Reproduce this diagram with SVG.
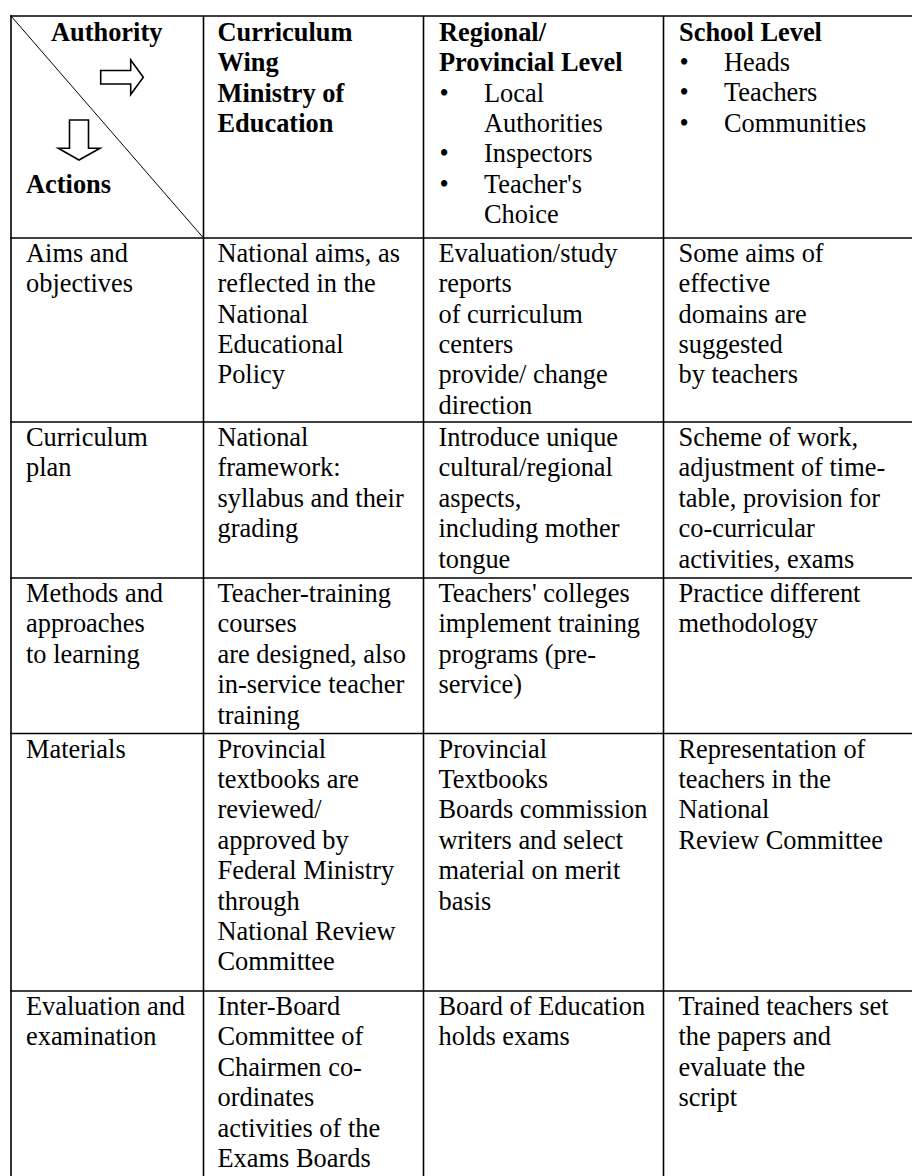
<svg xmlns="http://www.w3.org/2000/svg" width="912" height="1176" viewBox="0 0 912 1176">
<style>
.t{font-family:"Liberation Serif","Times New Roman",serif;font-size:26.4px;fill:#000}
.b{font-weight:bold}
.g{stroke:#000;stroke-width:1.6;fill:none}
.ar{stroke:#000;stroke-width:1.6;fill:#fff;stroke-linejoin:miter}
</style>
<rect width="912" height="1176" fill="#fff"/>
<g id="grid">
<line class="g" x1="10.2" y1="16" x2="912" y2="16"/>
<line class="g" x1="10.2" y1="238" x2="912" y2="238"/>
<line class="g" x1="10.2" y1="422" x2="912" y2="422"/>
<line class="g" x1="10.2" y1="578" x2="912" y2="578"/>
<line class="g" x1="10.2" y1="733.5" x2="912" y2="733.5"/>
<line class="g" x1="10.2" y1="991" x2="912" y2="991"/>
<line class="g" x1="11" y1="15.2" x2="11" y2="1176"/>
<line class="g" x1="203.5" y1="16" x2="203.5" y2="1176"/>
<line class="g" x1="423.5" y1="16" x2="423.5" y2="1176"/>
<line class="g" x1="663.5" y1="16" x2="663.5" y2="1176"/>
</g>
<g id="connectors">
<line x1="11" y1="16" x2="203.5" y2="238" stroke="#000" stroke-width="1"/>
<polygon class="ar" points="100.7,70.5 130.7,70.5 130.7,60 143.3,77.3 130.7,94.5 130.7,84 100.7,84"/>
<polygon class="ar" points="69.5,120 88.5,120 88.5,148.3 100,148.3 79,160 58.3,148.3 69.5,148.3"/>
</g>
<g id="h-authority"><text class="t b" x="106.7" y="40.7" text-anchor="middle">Authority</text><text class="t b" x="26" y="193">Actions</text></g>
<g id="h-curriculum"><text class="t b" x="217.5" y="40.7"><tspan x="217.5">Curriculum</tspan><tspan x="217.5" dy="30.4">Wing</tspan><tspan x="217.5" dy="30.4">Ministry of</tspan><tspan x="217.5" dy="30.4">Education</tspan></text></g>
<g id="h-regional">
<text class="t b" x="439" y="40.7"><tspan x="439">Regional/</tspan><tspan x="439" dy="30.4">Provincial Level</tspan></text>
<text class="t" x="439.5" y="101.5"><tspan x="439.5">•</tspan><tspan x="439.5" dy="60.8">•</tspan><tspan x="439.5" dy="30.4">•</tspan></text>
<text class="t" x="484" y="101.5"><tspan x="484">Local</tspan><tspan x="484" dy="30.4">Authorities</tspan><tspan x="484" dy="30.4">Inspectors</tspan><tspan x="484" dy="30.4">Teacher's</tspan><tspan x="484" dy="30.4">Choice</tspan></text>
</g>
<g id="h-school">
<text class="t b" x="679" y="40.7">School Level</text>
<text class="t" x="679.5" y="71"><tspan x="679.5">•</tspan><tspan x="679.5" dy="30.4">•</tspan><tspan x="679.5" dy="30.4">•</tspan></text>
<text class="t" x="724" y="71"><tspan x="724">Heads</tspan><tspan x="724" dy="30.4">Teachers</tspan><tspan x="724" dy="30.4">Communities</tspan></text>
</g>
<g id="r1c1"><text class="t" x="26" y="261.7"><tspan x="26">Aims and</tspan><tspan x="26" dy="30.4">objectives</tspan></text></g>
<g id="r1c2"><text class="t" x="217.5" y="261.7"><tspan x="217.5">National aims, as</tspan><tspan x="217.5" dy="30.4">reflected in the</tspan><tspan x="217.5" dy="30.4">National</tspan><tspan x="217.5" dy="30.4">Educational</tspan><tspan x="217.5" dy="30.4">Policy</tspan></text></g>
<g id="r1c3"><text class="t" x="438.5" y="261.7"><tspan x="438.5">Evaluation/study</tspan><tspan x="438.5" dy="30.4">reports</tspan><tspan x="438.5" dy="30.4">of curriculum</tspan><tspan x="438.5" dy="30.4">centers</tspan><tspan x="438.5" dy="30.4">provide/ change</tspan><tspan x="438.5" dy="30.4">direction</tspan></text></g>
<g id="r1c4"><text class="t" x="678.5" y="261.7"><tspan x="678.5">Some aims of</tspan><tspan x="678.5" dy="30.4">effective</tspan><tspan x="678.5" dy="30.4">domains are</tspan><tspan x="678.5" dy="30.4">suggested</tspan><tspan x="678.5" dy="30.4">by teachers</tspan></text></g>
<g id="r2c1"><text class="t" x="26" y="446"><tspan x="26">Curriculum</tspan><tspan x="26" dy="30.4">plan</tspan></text></g>
<g id="r2c2"><text class="t" x="217.5" y="446"><tspan x="217.5">National</tspan><tspan x="217.5" dy="30.4">framework:</tspan><tspan x="217.5" dy="30.4">syllabus and their</tspan><tspan x="217.5" dy="30.4">grading</tspan></text></g>
<g id="r2c3"><text class="t" x="438.5" y="446"><tspan x="438.5">Introduce unique</tspan><tspan x="438.5" dy="30.4">cultural/regional</tspan><tspan x="438.5" dy="30.4">aspects,</tspan><tspan x="438.5" dy="30.4">including mother</tspan><tspan x="438.5" dy="30.4">tongue</tspan></text></g>
<g id="r2c4"><text class="t" x="678.5" y="446"><tspan x="678.5">Scheme of work,</tspan><tspan x="678.5" dy="30.4">adjustment of time-</tspan><tspan x="678.5" dy="30.4">table, provision for</tspan><tspan x="678.5" dy="30.4">co-curricular</tspan><tspan x="678.5" dy="30.4">activities, exams</tspan></text></g>
<g id="r3c1"><text class="t" x="26" y="602"><tspan x="26">Methods and</tspan><tspan x="26" dy="30.4">approaches</tspan><tspan x="26" dy="30.4">to learning</tspan></text></g>
<g id="r3c2"><text class="t" x="217.5" y="602"><tspan x="217.5">Teacher-training</tspan><tspan x="217.5" dy="30.4">courses</tspan><tspan x="217.5" dy="30.4">are designed, also</tspan><tspan x="217.5" dy="30.4">in-service teacher</tspan><tspan x="217.5" dy="30.4">training</tspan></text></g>
<g id="r3c3"><text class="t" x="438.5" y="602"><tspan x="438.5">Teachers' colleges</tspan><tspan x="438.5" dy="30.4">implement training</tspan><tspan x="438.5" dy="30.4">programs (pre-</tspan><tspan x="438.5" dy="30.4">service)</tspan></text></g>
<g id="r3c4"><text class="t" x="678.5" y="602"><tspan x="678.5">Practice different</tspan><tspan x="678.5" dy="30.4">methodology</tspan></text></g>
<g id="r4c1"><text class="t" x="26" y="757.5">Materials</text></g>
<g id="r4c2"><text class="t" x="217.5" y="757.5"><tspan x="217.5">Provincial</tspan><tspan x="217.5" dy="30.4">textbooks are</tspan><tspan x="217.5" dy="30.4">reviewed/</tspan><tspan x="217.5" dy="30.4">approved by</tspan><tspan x="217.5" dy="30.4">Federal Ministry</tspan><tspan x="217.5" dy="30.4">through</tspan><tspan x="217.5" dy="30.4">National Review</tspan><tspan x="217.5" dy="30.4">Committee</tspan></text></g>
<g id="r4c3"><text class="t" x="438.5" y="757.5"><tspan x="438.5">Provincial</tspan><tspan x="438.5" dy="30.4">Textbooks</tspan><tspan x="438.5" dy="30.4">Boards commission</tspan><tspan x="438.5" dy="30.4">writers and select</tspan><tspan x="438.5" dy="30.4">material on merit</tspan><tspan x="438.5" dy="30.4">basis</tspan></text></g>
<g id="r4c4"><text class="t" x="678.5" y="757.5"><tspan x="678.5">Representation of</tspan><tspan x="678.5" dy="30.4">teachers in the</tspan><tspan x="678.5" dy="30.4">National</tspan><tspan x="678.5" dy="30.4">Review Committee</tspan></text></g>
<g id="r5c1"><text class="t" x="26" y="1015"><tspan x="26">Evaluation and</tspan><tspan x="26" dy="30.4">examination</tspan></text></g>
<g id="r5c2"><text class="t" x="217.5" y="1015"><tspan x="217.5">Inter-Board</tspan><tspan x="217.5" dy="30.4">Committee of</tspan><tspan x="217.5" dy="30.4">Chairmen co-</tspan><tspan x="217.5" dy="30.4">ordinates</tspan><tspan x="217.5" dy="30.4">activities of the</tspan><tspan x="217.5" dy="30.4">Exams Boards</tspan></text></g>
<g id="r5c3"><text class="t" x="438.5" y="1015"><tspan x="438.5">Board of Education</tspan><tspan x="438.5" dy="30.4">holds exams</tspan></text></g>
<g id="r5c4"><text class="t" x="678.5" y="1015"><tspan x="678.5">Trained teachers set</tspan><tspan x="678.5" dy="30.4">the papers and</tspan><tspan x="678.5" dy="30.4">evaluate the</tspan><tspan x="678.5" dy="30.4">script</tspan></text></g>
</svg>
